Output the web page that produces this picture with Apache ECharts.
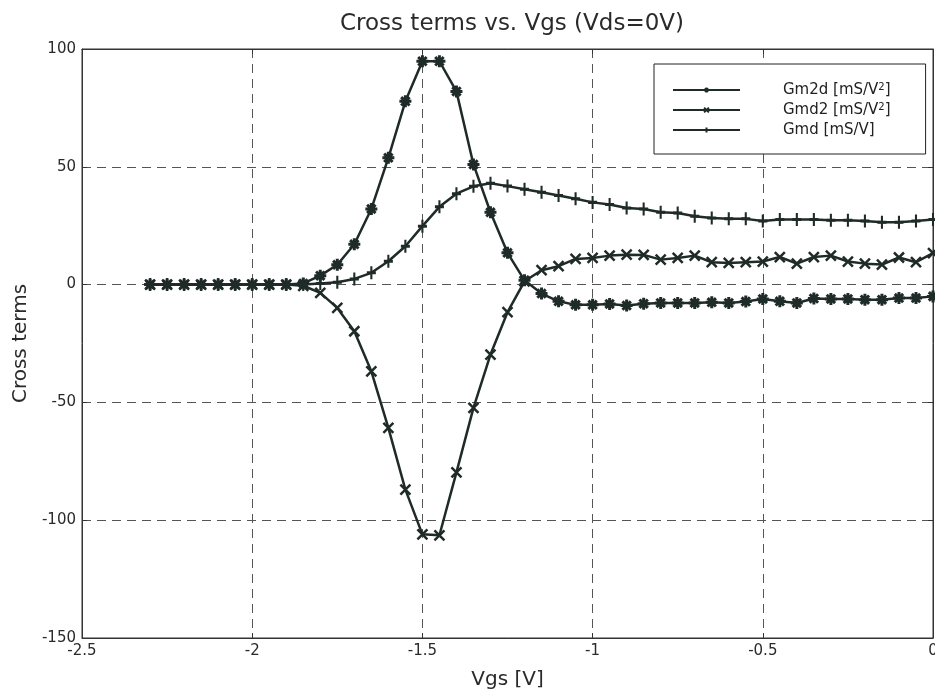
<!DOCTYPE html>
<html>
<head>
<meta charset="utf-8">
<script src="https://cdn.jsdelivr.net/npm/echarts@6/dist/echarts.min.js"></script>
<style>
  html, body { margin: 0; padding: 0; background: #fff; }
  #chart { width: 935px; height: 695px; }
</style>
</head>
<body>
<div id="chart"></div>
<script>
// Vgs [V] 采样点
var vgs = [-2.3, -2.25, -2.2, -2.15, -2.1, -2.05, -2.0, -1.95, -1.9, -1.85,
  -1.8, -1.75, -1.7, -1.65, -1.6, -1.55, -1.5, -1.45, -1.4, -1.35,
  -1.3, -1.25, -1.2, -1.15, -1.1, -1.05, -1.0, -0.95, -0.9, -0.85,
  -0.8, -0.75, -0.7, -0.65, -0.6, -0.55, -0.5, -0.45, -0.4, -0.35,
  -0.3, -0.25, -0.2, -0.15, -0.1, -0.05, 0];

var gm2d = [0, 0, 0, 0, 0, 0, 0, 0, 0, 0.5,
  3.8, 8.4, 17.1, 32.1, 53.8, 77.8, 94.8, 94.8, 82, 51,
  30.7, 13.5, 1.8, -3.8, -7.1, -8.6, -8.6, -8.2, -8.9, -8.1,
  -7.8, -7.8, -7.8, -7.5, -7.8, -7.2, -6.1, -7.1, -7.8, -5.9,
  -6.1, -6.1, -6.4, -6.4, -5.7, -5.7, -5.0];

var gmd2 = [0, 0, 0, 0, 0, 0, 0, 0, 0, -0.5,
  -3.5, -9.9, -19.8, -36.8, -60.8, -87, -106, -106.4, -79.7, -52.3,
  -29.7, -11.7, 1.4, 6.1, 7.8, 10.9, 11.3, 12.3, 12.7, 12.6,
  10.6, 11.3, 12.3, 9.5, 9.2, 9.5, 9.8, 11.7, 8.9, 11.7,
  12.3, 9.8, 8.9, 8.5, 11.5, 9.5, 13.4];

var gmd = [0, 0, 0, 0, 0, 0, 0, 0, 0, 0,
  0.5, 1.0, 2.4, 5, 9.9, 16.3, 24.8, 33, 38.6, 41.7,
  43, 41.8, 40.5, 39.2, 37.8, 36.4, 34.9, 34, 32.5, 32.1,
  30.7, 30.4, 29, 28.3, 27.9, 27.9, 27, 27.6, 27.6, 27.6,
  27.3, 27.3, 27, 26.5, 26.5, 27, 27.6];

var seriesNames = ["Gm2d", "Gmd2", "Gmd"];
var legendLabels = ["Gm2d [mS/V{sup|2}]", "Gmd2 [mS/V{sup|2}]", "Gmd [mS/V]"];

var ink = "#1f2b28";
var font = "DejaVu Sans";

// 标记形状: 星号 / 叉 / 加号
var starSym = "path://M0,5L10,5M5,0L5,10M1.5,1.5L8.5,8.5M1.5,8.5L8.5,1.5";
var crossSym = "path://M0,0L10,10M0,10L10,0";
var plusSym = "path://M0,5L10,5M5,0L5,10";

function pairs(ys) {
  var out = [];
  for (var i = 0; i < vgs.length; i++) {
    out.push([vgs[i], ys[i]]);
  }
  return out;
}

function makeSeries(name, ys, symbol, size, bw) {
  return {
    name: name,
    type: "line",
    data: pairs(ys),
    symbol: symbol,
    symbolSize: size,
    showSymbol: true,
    lineStyle: { color: ink, width: 2.5 },
    itemStyle: { color: ink, borderColor: ink, borderWidth: bw },
    emphasis: { disabled: true }
  };
}

var axisLineStyle = { color: "#333", width: 1 };

var myChart = echarts.init(document.getElementById("chart"));

var option = {
  animation: false,
  backgroundColor: "#fff",
  title: {
    text: "Cross terms vs. Vgs (Vds=0V)",
    left: 335,
    top: 8,
    textStyle: { fontFamily: font, fontSize: 23, fontWeight: "normal", color: "#2a2a2a" }
  },
  legend: {
    orient: "vertical",
    left: 654,
    top: 64,
    data: seriesNames,
    itemWidth: 67,
    itemHeight: 6,
    itemGap: 4,
    padding: [18, 35, 16, 18],
    borderColor: "#222",
    borderWidth: 1,
    backgroundColor: "#fff",
    formatter: function (name) {
      return legendLabels[seriesNames.indexOf(name)];
    },
    textStyle: {
      fontFamily: font,
      fontSize: 15,
      color: "#222",
      lineHeight: 16,
      padding: [0, 0, 0, 38],
      rich: {
        sup: { fontFamily: font, fontSize: 10, lineHeight: 8, verticalAlign: "top", color: "#222" }
      }
    }
  },
  grid: {
    left: 82,
    right: 2,
    top: 49,
    bottom: 57,
    outerBoundsMode: "none",
    containLabel: false,
    show: true,
    borderColor: "#333",
    borderWidth: 1
  },
  xAxis: [
    {
      type: "value",
      min: -2.5,
      max: 0,
      interval: 0.5,
      name: "Vgs [V]",
      nameLocation: "middle",
      nameGap: 32,
      nameTextStyle: { fontFamily: font, fontSize: 20, color: "#2a2a2a" },
      axisLine: { show: true, onZero: false, lineStyle: axisLineStyle },
      axisTick: { show: true, inside: true, length: 5, lineStyle: { color: "#333" } },
      axisLabel: { fontFamily: font, fontSize: 15, color: "#2a2a2a", margin: 6 },
      splitLine: { show: true, lineStyle: { color: "#555", width: 1, type: [9, 6] } }
    },
    {
      type: "value",
      position: "top",
      min: -2.5,
      max: 0,
      interval: 0.5,
      axisLine: { show: true, onZero: false, lineStyle: axisLineStyle },
      axisTick: { show: true, inside: true, length: 5, lineStyle: { color: "#333" } },
      axisLabel: { show: false },
      splitLine: { show: false }
    }
  ],
  yAxis: [
    {
      type: "value",
      min: -150,
      max: 100,
      interval: 50,
      name: "Cross terms",
      nameLocation: "middle",
      nameGap: 50,
      nameTextStyle: { fontFamily: font, fontSize: 20, color: "#2a2a2a" },
      axisLine: { show: true, onZero: false, lineStyle: axisLineStyle },
      axisTick: { show: true, inside: true, length: 5, lineStyle: { color: "#333" } },
      axisLabel: { fontFamily: font, fontSize: 15, color: "#2a2a2a", margin: 6 },
      splitLine: { show: true, lineStyle: { color: "#555", width: 1, type: [9, 6] } }
    },
    {
      type: "value",
      position: "right",
      min: -150,
      max: 100,
      interval: 50,
      axisLine: { show: true, onZero: false, lineStyle: axisLineStyle },
      axisTick: { show: true, inside: true, length: 5, lineStyle: { color: "#333" } },
      axisLabel: { show: false },
      splitLine: { show: false }
    }
  ],
  series: [
    makeSeries("Gm2d", gm2d, starSym, 12, 3),
    makeSeries("Gmd2", gmd2, crossSym, 10, 2.5),
    makeSeries("Gmd", gmd, plusSym, [9, 13], 2.5)
  ]
};

myChart.setOption(option);
</script>
</body>
</html>
